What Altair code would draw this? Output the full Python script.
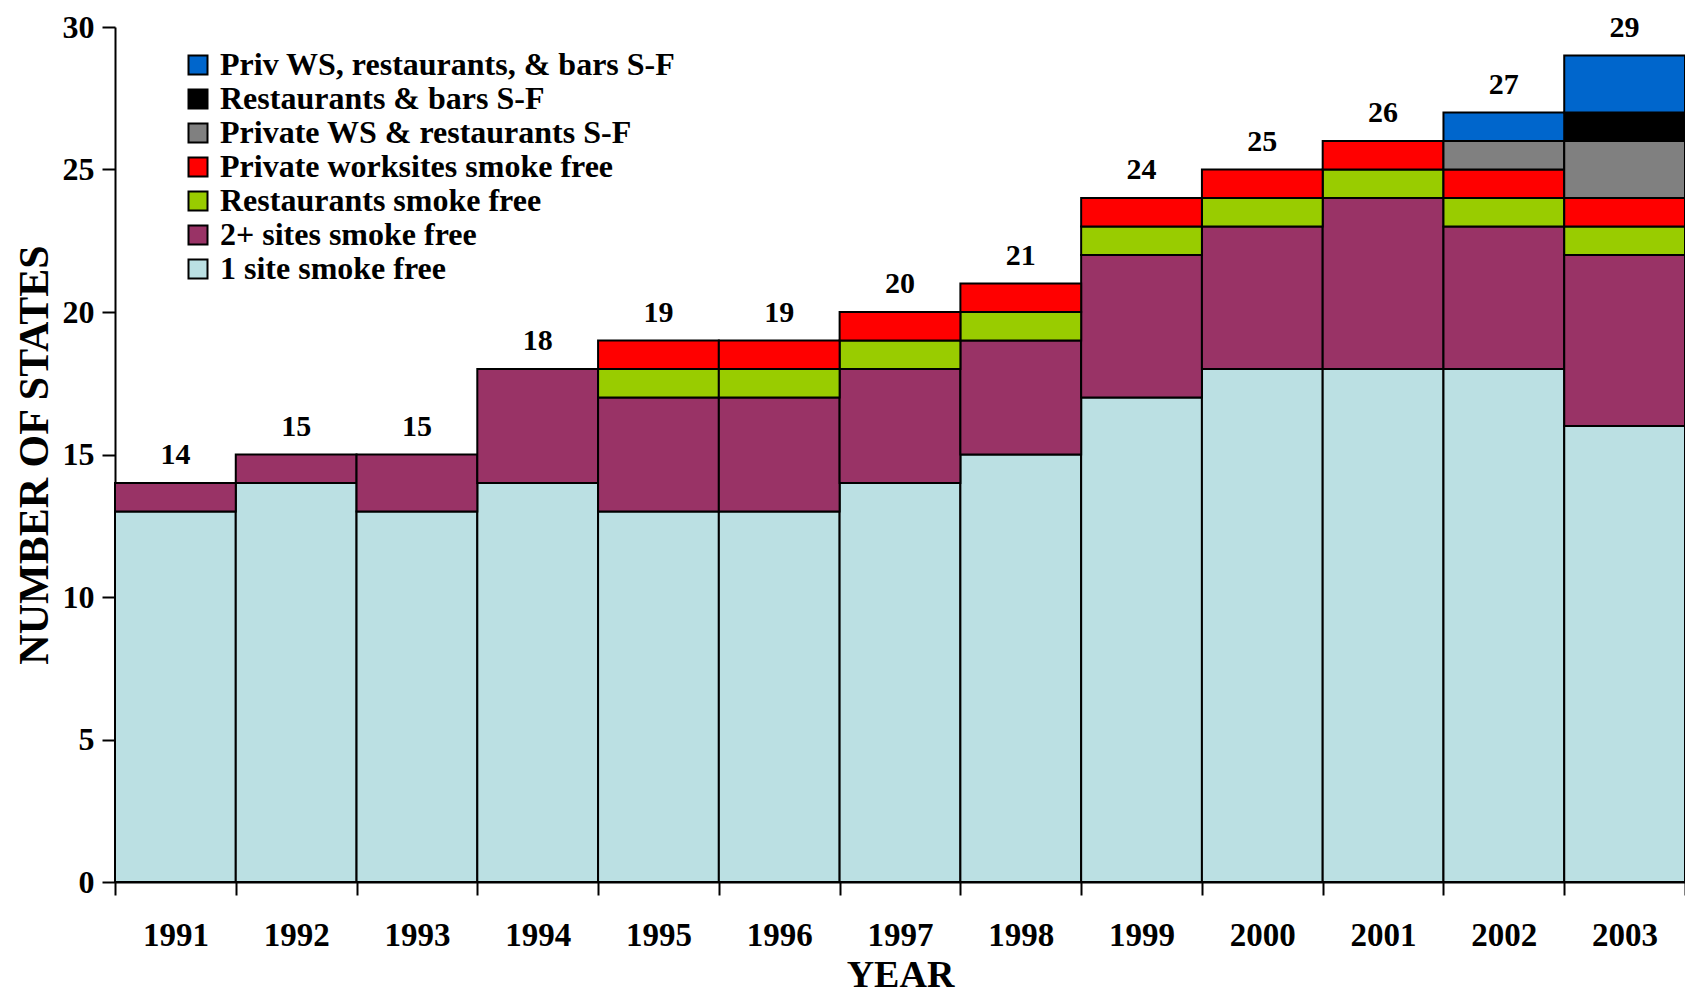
import altair as alt
import pandas as pd

years = ["1991", "1992", "1993", "1994", "1995", "1996", "1997",
         "1998", "1999", "2000", "2001", "2002", "2003"]

one_site = [13, 14, 13, 14, 13, 13, 14, 15, 17, 18, 18, 18, 16]
two_plus = [1, 1, 2, 4, 4, 4, 4, 4, 5, 5, 6, 5, 6]
restaurants = [0, 0, 0, 0, 1, 1, 1, 1, 1, 1, 1, 1, 1]
private_ws = [0, 0, 0, 0, 1, 1, 1, 1, 1, 1, 1, 1, 1]
priv_ws_rest = [0, 0, 0, 0, 0, 0, 0, 0, 0, 0, 0, 1, 2]
rest_bars = [0, 0, 0, 0, 0, 0, 0, 0, 0, 0, 0, 0, 1]
priv_ws_rest_bars = [0, 0, 0, 0, 0, 0, 0, 0, 0, 0, 0, 1, 2]

totals = [14, 15, 15, 18, 19, 19, 20, 21, 24, 25, 26, 27, 29]

series_names = [
    "1 site smoke free",
    "2+ sites smoke free",
    "Restaurants smoke free",
    "Private worksites smoke free",
    "Private WS & restaurants S-F",
    "Restaurants & bars S-F",
    "Priv WS, restaurants, & bars S-F",
]
series_values = [one_site, two_plus, restaurants, private_ws,
                 priv_ws_rest, rest_bars, priv_ws_rest_bars]
series_colors = ["#BBE0E3", "#993366", "#99CC00", "#FF0000",
                 "#808080", "#000000", "#0066CC"]

rows = []
for si, (name, vals) in enumerate(zip(series_names, series_values)):
    for y, v in zip(years, vals):
        if v > 0:
            rows.append({"year": y, "series": name, "value": v, "order": si})
df = pd.DataFrame(rows)
tot_df = pd.DataFrame({"year": years, "total": totals})

FONT = "Liberation Serif, Times New Roman, Times, serif"

legend_domain = list(reversed(series_names))
legend_range = list(reversed(series_colors))

x_enc = alt.X("year:N", sort=years,
              scale=alt.Scale(paddingInner=0, paddingOuter=0),
              axis=alt.Axis(title="YEAR", labelAngle=0, tickBand="extent",
                            tickSize=13, tickWidth=2, tickColor="black",
                            domainColor="black", domainWidth=2,
                            labelFont=FONT, labelFontWeight="bold",
                            labelFontSize=33, labelColor="black",
                            labelPadding=24,
                            titleFont=FONT, titleFontWeight="bold",
                            titleFontSize=38, titleColor="black",
                            titlePadding=4))

bars = alt.Chart(df).mark_bar(stroke="black", strokeWidth=2).encode(
    x=x_enc,
    y=alt.Y("value:Q", stack="zero",
            scale=alt.Scale(domain=[0, 30], nice=False),
            axis=alt.Axis(title="NUMBER OF STATES", values=[0, 5, 10, 15, 20, 25, 30],
                          grid=False, tickSize=13, tickWidth=2, tickColor="black",
                          domainColor="black", domainWidth=2,
                          labelFont=FONT, labelFontWeight="bold",
                          labelFontSize=32, labelColor="black", labelPadding=8,
                          titleFont=FONT, titleFontWeight="bold",
                          titleFontSize=42, titleColor="black", titlePadding=6)),
    color=alt.Color("series:N",
                    scale=alt.Scale(domain=legend_domain, range=legend_range),
                    legend=alt.Legend(title=None, orient="none",
                                      legendX=67, legendY=22,
                                      symbolType="square", symbolSize=361,
                                      symbolStrokeColor="black",
                                      symbolStrokeWidth=2, symbolOpacity=1,
                                      labelFont=FONT, labelFontWeight="bold",
                                      labelFontSize=32, labelColor="black",
                                      labelOffset=6, rowPadding=2,
                                      padding=0, labelLimit=800)),
    order=alt.Order("order:Q", sort="ascending"),
)

labels = alt.Chart(tot_df).mark_text(
    font=FONT, fontWeight="bold", fontSize=30, color="black",
    baseline="middle", dy=-28
).encode(
    x=alt.X("year:N", sort=years),
    y=alt.Y("total:Q"),
    text=alt.Text("total:Q"),
)

chart = alt.layer(bars, labels).properties(
    width=1570, height=855,
    autosize=alt.AutoSizeParams(type="none"),
    padding={"left": 107, "top": 19, "right": 0, "bottom": 112},
).configure_view(stroke=None)

chart.save("out.html", embed_options={"renderer": "svg", "actions": False})
